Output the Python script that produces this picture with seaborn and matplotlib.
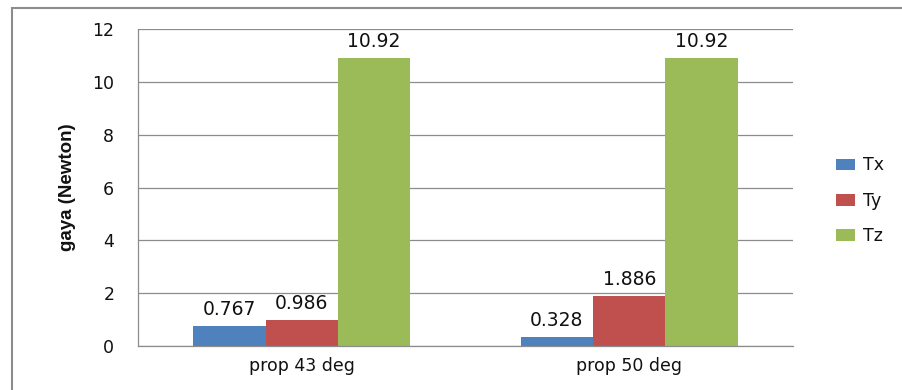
import pandas as pd
import numpy as np
import seaborn as sns
import matplotlib.pyplot as plt
from matplotlib.patches import Rectangle

categories = ['prop 43 deg', 'prop 50 deg']
series = ['Tx', 'Ty', 'Tz']
tx = [0.767, 0.328]
ty = [0.986, 1.886]
tz = [10.92, 10.92]
colors = ['#4F81BD', '#C0504D', '#9BBB59']

data = pd.DataFrame({
    'kategori': categories * 3,
    'seri': [s for s in series for _ in categories],
    'gaya': tx + ty + tz,
})

sns.set_style('white')
plt.rcParams['font.family'] = ['DejaVu Sans']
plt.rcParams['text.color'] = '#111111'
plt.rcParams['xtick.labelcolor'] = '#111111'
plt.rcParams['ytick.labelcolor'] = '#111111'

fig = plt.figure(figsize=(9.03, 3.90), dpi=100)
ax = fig.add_axes([0.1528, 0.1128, 0.7254, 0.8128])

sns.barplot(data=data, x='kategori', y='gaya', hue='seri', hue_order=series,
            palette=colors, width=0.663, saturation=1, linewidth=0,
            ax=ax, legend=True)

for cont in ax.containers:
    ax.bar_label(cont, labels=[f'{v:g}' for v in cont.datavalues],
                 padding=5, fontsize=13.5, color='#111111')

# axes styling, Excel look
ax.set_xlim(-0.5, 1.5)
ax.set_ylim(0, 12)
ax.set_yticks(np.arange(0, 13, 2))
ax.yaxis.grid(True, color='#8c8c8c', linewidth=0.9)
ax.set_axisbelow(True)
for s in ['top', 'right']:
    ax.spines[s].set_visible(False)
for s in ['left', 'bottom']:
    ax.spines[s].set_color('#8c8c8c')
    ax.spines[s].set_linewidth(0.9)
ax.tick_params(axis='y', length=7, color='#8c8c8c', labelsize=12.5, pad=10)
ax.tick_params(axis='x', which='major', length=0, labelsize=12.5, pad=8)
ax.set_xticks([-0.5, 0.5, 1.5], minor=True)
ax.tick_params(axis='x', which='minor', length=5, color='#8c8c8c')
ax.set_xlabel('')
ax.set_ylabel('gaya (Newton)', fontsize=13.5, fontweight='bold', color='#111111',
              family=['Liberation Sans Narrow', 'Liberation Sans'], labelpad=12)

ax.legend(title=None, frameon=False, loc='center left',
          bbox_to_anchor=(0.908, 0.485), bbox_transform=fig.transFigure,
          fontsize=12.5, handlelength=1.1, handleheight=0.65, labelspacing=1.0,
          handletextpad=0.5)

# outer chart frame
fig.patches.append(Rectangle((12 / 903, -0.2), 1.2, 1.2 - 8 / 390,
                             transform=fig.transFigure, fill=False,
                             edgecolor='#8c8c8c', linewidth=1.5))

fig.savefig('out.png', dpi=100)
